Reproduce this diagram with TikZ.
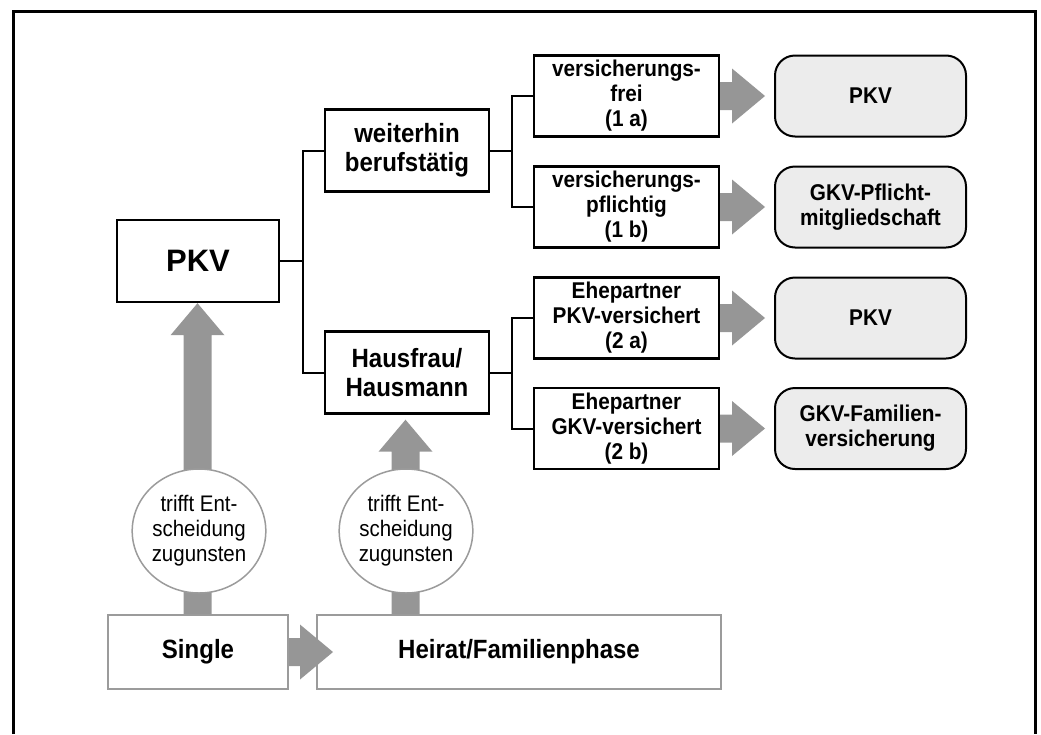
\documentclass[tikz,border=0pt]{standalone}
\usepackage{fontspec}
% narrowed face, set at a larger size: taller letters at the same widths
\setmainfont[FakeStretch=0.91]{Liberation Sans}
\newfontfamily\plainsans{Liberation Sans}
\usetikzlibrary{calc,shapes.geometric}

\definecolor{arrowgray}{RGB}{150,150,150}
\definecolor{framegray}{RGB}{155,155,155}
\definecolor{resultfill}{RGB}{236,236,236}

% broad block arrows, drawn as filled outlines between two points
\newcommand\fatup[2]{%
  \fill[arrowgray] let \p1=#1, \p2=#2 in
    (\x1-14pt,\y1) -- (\x1-14pt,\y2-32pt) -- (\x1-27pt,\y2-32pt) -- (\x1,\y2)
    -- (\x1+27pt,\y2-32pt) -- (\x1+14pt,\y2-32pt) -- (\x1+14pt,\y1) -- cycle;}
\newcommand\fatright[2]{%
  \fill[arrowgray] let \p1=#1, \p2=#2 in
    (\x1,\y1-14pt) -- (\x2-33pt,\y1-14pt) -- (\x2-33pt,\y1-27.5pt) -- (\x2,\y1)
    -- (\x2-33pt,\y1+27.5pt) -- (\x2-33pt,\y1+14pt) -- (\x1,\y1+14pt) -- cycle;}

\tikzset{
  basebox/.style={draw=black, line width=2.4pt, fill=white, inner sep=0pt,
    align=center, font=\bfseries},
  topbox/.style={basebox, minimum width=162pt, minimum height=82pt,
    font=\plainsans\bfseries\fontsize{31}{34}\selectfont},
  midbox/.style={basebox, minimum width=164pt, minimum height=82pt,
    font=\bfseries\fontsize{26.4}{29}\selectfont},
  casebox/.style={basebox, minimum width=185pt, minimum height=81pt,
    font=\bfseries\fontsize{22.8}{25}\selectfont},
  resultbox/.style={draw=black, line width=2pt, fill=resultfill, rounded corners=20pt,
    inner sep=0pt, align=center, minimum width=191pt, minimum height=81pt,
    font=\bfseries\fontsize{22.8}{25}\selectfont},
  phasebox/.style={draw=framegray, line width=2pt, fill=white, inner sep=0pt,
    minimum height=74pt, font=\bfseries\fontsize{26.4}{29}\selectfont},
  choice/.style={ellipse, draw=framegray, line width=1.5pt, fill=white, inner sep=0pt,
    minimum width=128pt, minimum height=124pt, align=center,
    font=\fontsize{22.5}{25}\selectfont},
  link/.style={draw=black, line width=2pt},
}

\begin{document}
\begin{tikzpicture}[x=1pt, y=-1pt]
  \useasboundingbox (0,0) rectangle (1041,734);

  % open frame
  \draw[line width=3pt] (13,734) -- (13,11) -- (1035,11) -- (1035,734);

  % boxes
  \node[topbox] (pkv) at (198,261) {PKV};
  \node[midbox] (weiter) at (407,150.5) {weiterhin\\berufstätig};
  \node[midbox] (haus) at (407,372.5) {Hausfrau/\\Hausmann};

  \node[casebox] (c1a) at (626.5,96) {versicherungs-\\frei\\(1 a)};
  \node[casebox] (c1b) at (626.5,207) {versicherungs-\\pflichtig\\(1 b)};
  \node[casebox] (c2a) at (626.5,318) {Ehepartner\\PKV-versichert\\(2 a)};
  \node[casebox] (c2b) at (626.5,428.5) {Ehepartner\\GKV-versichert\\(2 b)};

  \node[resultbox] (r1a) at (870.5,96) {PKV};
  \node[resultbox] (r1b) at (870.5,207) {GKV-Pflicht-\\mitgliedschaft};
  \node[resultbox] (r2a) at (870.5,318) {PKV};
  \node[resultbox] (r2b) at (870.5,428.5) {GKV-Familien-\\versicherung};

  \node[phasebox, minimum width=180pt] (single) at (198,652) {Single};
  \node[phasebox, minimum width=404pt] (heirat) at (519,652) {Heirat/Familienphase};

  % tree connectors
  \coordinate (b0) at (303,261);
  \draw[link] (pkv.east) -- (b0) |- (weiter.west);
  \draw[link] (b0) |- (haus.west);
  \coordinate (b1) at (512,150.5);
  \draw[link] (weiter.east) -- (b1) |- (c1a.west);
  \draw[link] (b1) |- (c1b.west);
  \coordinate (b2) at (512,372.5);
  \draw[link] (haus.east) -- (b2) |- (c2a.west);
  \draw[link] (b2) |- (c2b.west);

  % block arrows
  \fatright{(c1a.east)}{([xshift=-9pt]r1a.west)}
  \fatright{(c1b.east)}{([xshift=-9pt]r1b.west)}
  \fatright{(c2a.east)}{([xshift=-9pt]r2a.west)}
  \fatright{(c2b.east)}{([xshift=-9pt]r2b.west)}
  \fatright{(single.east)}{([xshift=17pt]heirat.west)}
  \fatup{([xshift=-0.5pt]single.north)}{(pkv.south)}
  \fatup{([xshift=-1.5pt]haus.south |- heirat.north)}{([xshift=-1.5pt,yshift=-5pt]haus.south)}

  % decision bubbles on the upward arrows
  \node[choice] (d1) at (199,531) {trifft Ent-\\scheidung\\zugunsten};
  \node[choice] (d2) at (406,531) {trifft Ent-\\scheidung\\zugunsten};
\end{tikzpicture}
\end{document}
